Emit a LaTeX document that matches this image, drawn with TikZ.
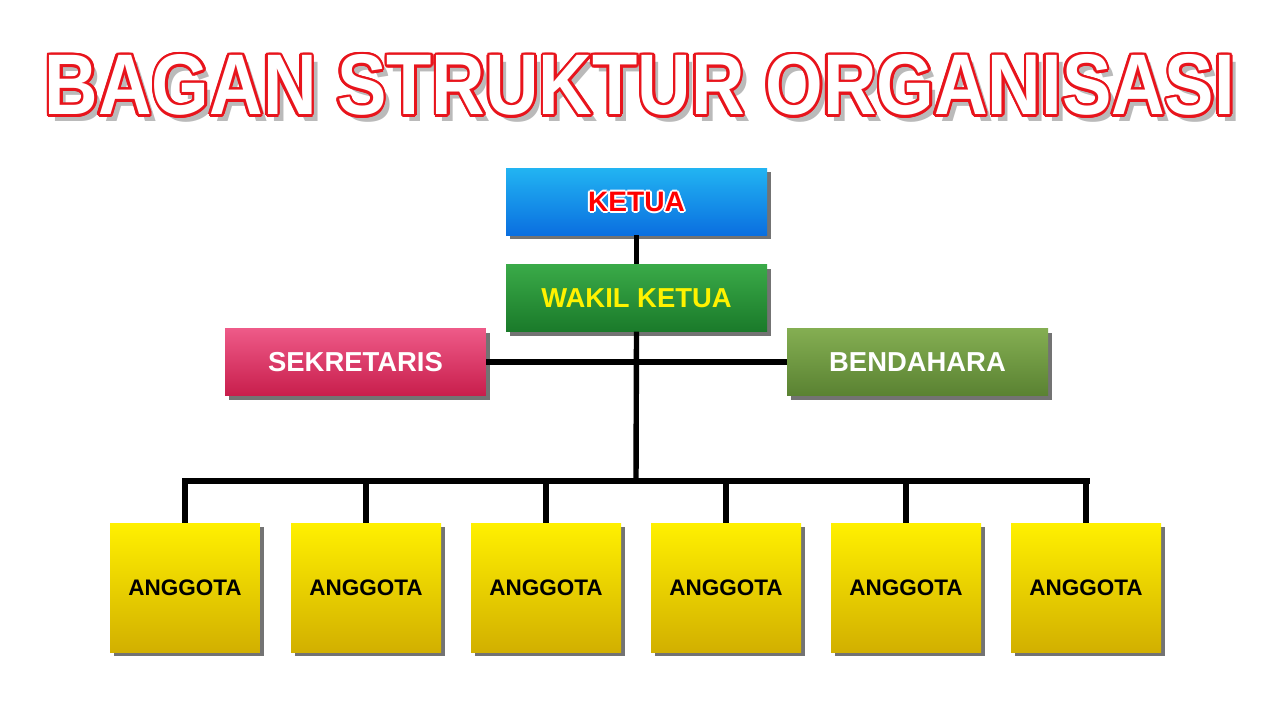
\documentclass[tikz,border=0pt]{standalone}
\usepackage{fontspec}
\setmainfont{Liberation Sans}
\usetikzlibrary{shadows,calc}
\definecolor{tred}{HTML}{E8141C}
\definecolor{kt1}{HTML}{22B4F2}\definecolor{kt2}{HTML}{0A6FE0}
\definecolor{wk1}{HTML}{3AAA48}\definecolor{wk2}{HTML}{1A7A2A}
\definecolor{sk1}{HTML}{EE5A88}\definecolor{sk2}{HTML}{C81E4C}
\definecolor{bd1}{HTML}{84AE52}\definecolor{bd2}{HTML}{5A8232}
\definecolor{ag1}{HTML}{FFF000}\definecolor{ag2}{HTML}{D2B000}
\tikzset{
  box/.style={draw=none, inner sep=0pt, font=\bfseries,
    drop shadow={shadow xshift=0.22cm, shadow yshift=-0.22cm, fill=black, opacity=0.55}},
  wide/.style={box, minimum width=13.05cm, minimum height=3.35cm},
  memb/.style={box, minimum width=7.5cm, minimum height=6.45cm, top color=ag1, bottom color=ag2, font=\bfseries\fontsize{32}{34}\selectfont},
  conn/.style={line width=0.27cm}
}
\begin{document}
\begin{tikzpicture}[x=0.05cm,y=-0.05cm]
\useasboundingbox[fill=white] (0,0) rectangle (1280,720);
% title
\def\ttl{\resizebox{59.5cm}{3.0cm}{\bfseries BAGAN STRUKTUR ORGANISASI}}
\node[black!45,opacity=0.6] at (646,92) {\ttl};
\foreach \a in {0,22.5,...,359}{\node[tred] at ($(640,85)+(\a:0.13cm)$) {\ttl};}
\node[white] (title) at (640,85) {\ttl};
% connectors
\coordinate (bar) at (636,481);
\coordinate (bl) at (185,481);
\coordinate (br) at (1087,481);
% boxes
\node[wide, top color=kt1, bottom color=kt2] (ketua) at (636.5,201.5) {};
\def\kt{\bfseries\fontsize{40}{42}\selectfont KETUA}
\foreach \a in {0,45,...,359}{\node[white] at ($(636.5,202)+(\a:0.1cm)$) {\kt};}
\node[red] at (636.5,202) {\kt};
\node[wide, top color=wk1, bottom color=wk2, text=yellow, font=\bfseries\fontsize{39}{41}\selectfont] (wakil) at (636.5,298) {WAKIL KETUA};
\node[wide, top color=sk1, bottom color=sk2, text=white, font=\bfseries\fontsize{39}{41}\selectfont] (sek) at (355.5,362) {SEKRETARIS};
\node[wide, top color=bd1, bottom color=bd2, text=white, font=\bfseries\fontsize{39}{41}\selectfont] (bend) at (917.5,362) {BENDAHARA};
\foreach \i/\x in {1/185,2/366,3/546,4/726,5/906,6/1086}{
  \node[memb] (a\i) at (\x,587.5) {ANGGOTA};
}
\draw[conn] (ketua.south) -- (wakil.north);
\draw[conn] (wakil.south) -- (bar);
\draw[conn] (sek.east) -- (bend.west);
\draw[conn,line cap=rect] (bl) -- (br);
\foreach \i in {1,...,6}{\draw[conn] (a\i.north |- bar) -- (a\i.north);}
\end{tikzpicture}
\end{document}
